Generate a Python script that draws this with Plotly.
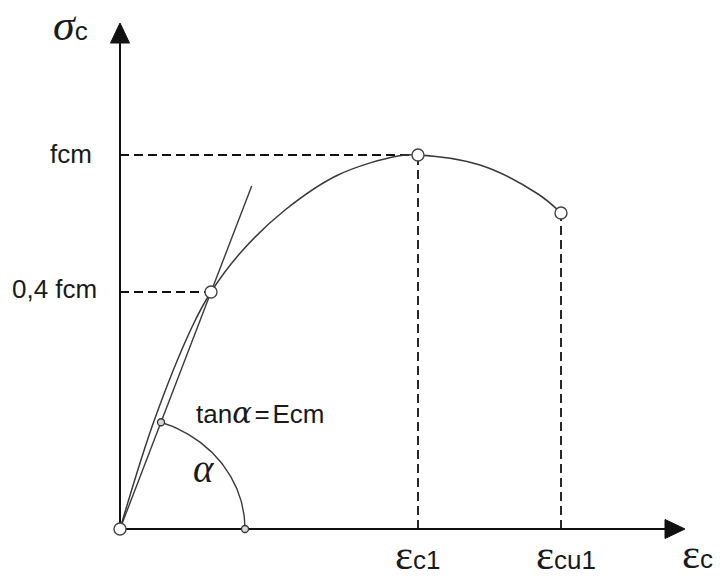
import numpy as np
import plotly.graph_objects as go

# Schematic stress-strain diagram for concrete (sketch units, origin at 0,0)
curve_strain = [0, 34, 72, 91, 122, 165, 218, 278, 298, 360, 418, 441]
curve_stress = [0, 108, 202, 237, 278, 319, 354, 373, 374, 364, 335, 316]

# Characteristic points
strain_04, stress_04 = 91, 237        # 0,4 fcm
strain_c1, f_cm = 298, 374            # peak (εc1, fcm)
strain_cu1, stress_cu1 = 441, 316     # ultimate (εcu1)
secant_top = 343                      # upper end of the secant (Ecm) line
arc_rx, arc_ry = 125, 113             # angle marker radii

# Axis extents
x_axis_len, y_axis_len = 565, 506
arrow_len, arrow_half = 20, 9.5

ink = "#111111"
text_col = "#1a1a1a"
curve_col = "#3a3a3a"

fig = go.Figure()

# Dashed reference lines
dash_kw = dict(mode="lines", line=dict(color=ink, width=1.8, dash="9px,5px"),
               hoverinfo="skip", showlegend=False)
fig.add_trace(go.Scatter(x=[0, strain_c1], y=[f_cm, f_cm], **dash_kw))
fig.add_trace(go.Scatter(x=[strain_c1, strain_c1], y=[0, f_cm], **dash_kw))
fig.add_trace(go.Scatter(x=[0, strain_04], y=[stress_04, stress_04], **dash_kw))
fig.add_trace(go.Scatter(x=[strain_cu1, strain_cu1], y=[0, stress_cu1], **dash_kw))

# Axes
axis_kw = dict(mode="lines", line=dict(color=ink, width=2), hoverinfo="skip", showlegend=False)
fig.add_trace(go.Scatter(x=[0, x_axis_len - arrow_len], y=[0, 0], **axis_kw))
fig.add_trace(go.Scatter(x=[0, 0], y=[0, y_axis_len - arrow_len], **axis_kw))

# Secant line through the 0,4 fcm point
slope = stress_04 / strain_04
fig.add_trace(go.Scatter(x=[0, secant_top / slope], y=[0, secant_top], mode="lines",
                         line=dict(color=curve_col, width=1.4), hoverinfo="skip",
                         showlegend=False))

# Angle marker between the strain axis and the secant
t_end = np.arctan(slope * arc_rx / arc_ry)
t = np.linspace(0, t_end, 60)
fig.add_trace(go.Scatter(x=arc_rx * np.cos(t), y=arc_ry * np.sin(t), mode="lines",
                         line=dict(color=curve_col, width=1.4), hoverinfo="skip",
                         showlegend=False))

# Stress-strain curve
fig.add_trace(go.Scatter(x=curve_strain, y=curve_stress, mode="lines",
                         line=dict(color=curve_col, width=1.5, shape="spline", smoothing=1.0),
                         hoverinfo="skip", showlegend=False))

# Small markers at the angle ends
fig.add_trace(go.Scatter(x=[arc_rx * np.cos(t_end), arc_rx], y=[arc_ry * np.sin(t_end), 0],
                         mode="markers",
                         marker=dict(size=7, color="#d8d8d8", line=dict(color="#333333", width=1.3)),
                         hoverinfo="skip", showlegend=False))

# Open circles at the characteristic points
fig.add_trace(go.Scatter(x=[0, strain_04, strain_c1, strain_cu1],
                         y=[0, stress_04, f_cm, stress_cu1], mode="markers",
                         marker=dict(size=12, color="white", line=dict(color="#444444", width=1.4)),
                         hoverinfo="skip", showlegend=False))

# Arrow heads
fig.add_shape(type="path", xref="x", yref="y",
              path=(f"M {x_axis_len - arrow_len},{-arrow_half} L {x_axis_len},0 "
                    f"L {x_axis_len - arrow_len},{arrow_half} Z"),
              fillcolor=ink, line=dict(color=ink, width=1))
fig.add_shape(type="path", xref="x", yref="y",
              path=(f"M {-arrow_half},{y_axis_len - arrow_len} L 0,{y_axis_len} "
                    f"L {arrow_half},{y_axis_len - arrow_len} Z"),
              fillcolor=ink, line=dict(color=ink, width=1))

greek_it = "font-family:Liberation Serif;font-style:italic"
greek_dv = "font-family:DejaVu Serif;font-style:italic"
greek_eps = "font-family:Liberation Serif;font-size:43px"
thin_gap = "<span style='font-size:10px'> </span>"


def eps(sub):
    return f"<span style='{greek_eps}'>ε</span>{sub}"


annotations = [
    dict(x=-69, y=477, xanchor="left", yanchor="bottom",
         text=f"<span style='{greek_it};font-size:44px'>σ</span>c"),
    dict(x=-26, y=f_cm + 1, xanchor="right", yanchor="middle", text="fcm"),
    dict(x=-21, y=stress_04 + 3, xanchor="right", yanchor="middle", text="0,4 fcm"),
    dict(x=74, y=97, xanchor="left", yanchor="bottom",
         text=(f"tan<span style='{greek_dv};font-size:29px'>α</span>"
               f"{thin_gap}={thin_gap}Ecm")),
    dict(x=84, y=61, xanchor="center", yanchor="middle",
         text=f"<span style='{greek_it};font-size:39px'>α</span>"),
    dict(x=strain_c1, y=0, xanchor="center", yanchor="top", text=eps("c1")),
    dict(x=strain_cu1, y=0, xanchor="center", yanchor="top", text=eps("cu1"), xshift=5),
    dict(x=x_axis_len - 5, y=1, xanchor="left", yanchor="top", text=eps("c")),
]
for a in annotations:
    a.update(xref="x", yref="y", showarrow=False,
             font=dict(family="Liberation Sans", size=26, color=text_col))
fig.update_layout(annotations=annotations)

fig.update_layout(
    width=720, height=577,
    margin=dict(l=0, r=0, t=0, b=0),
    paper_bgcolor="white", plot_bgcolor="white",
    xaxis=dict(range=[-120, 600], visible=False, fixedrange=True),
    yaxis=dict(range=[-48, 529], visible=False, fixedrange=True),
)

fig.write_html("out.html")
